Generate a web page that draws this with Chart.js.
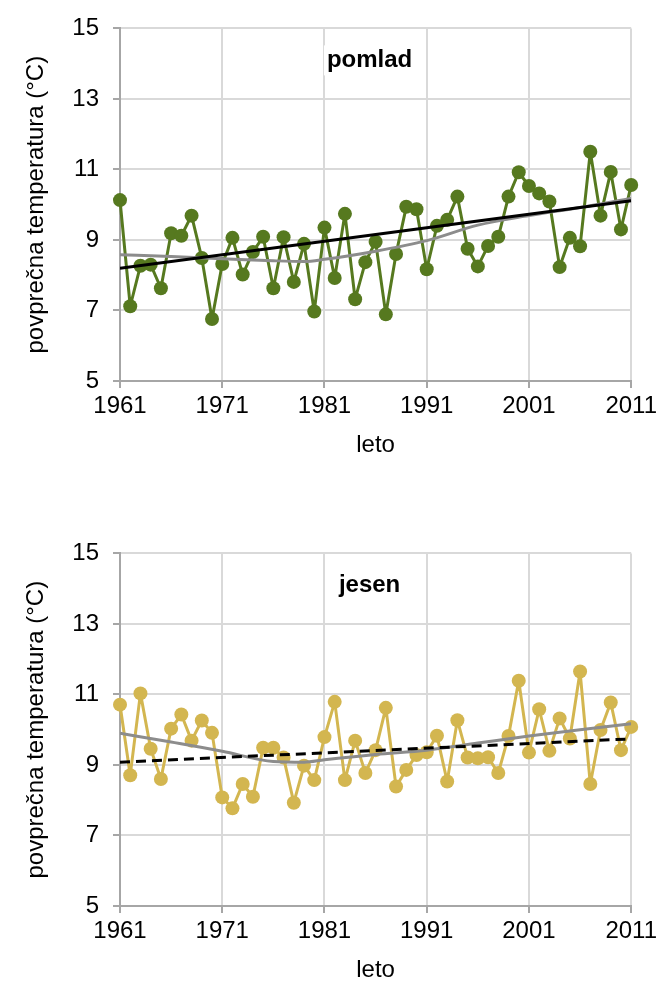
<!DOCTYPE html>
<html>
<head>
<meta charset="utf-8">
<script src="https://cdn.jsdelivr.net/npm/chart.js@4.4.0/dist/chart.umd.min.js"></script>
<style>
  body { margin: 0; background: #fff; }
  .box { position: absolute; left: 0; width: 661px; height: 460px; }
</style>
</head>
<body>
<div class="box" style="top:0"><canvas id="pomladChart" width="661" height="460"></canvas></div>
<div class="box" style="top:525px"><canvas id="jesenChart" width="661" height="460"></canvas></div>
<script>
// years 1961..2011
var years = Array.from({ length: 51 }, function (_, i) { return 1961 + i; });
var xTicks = [1961, 1971, 1981, 1991, 2001, 2011];

// spring (pomlad) mean temperature
var pomlad = [10.13, 7.12, 8.27, 8.30, 7.63, 9.19, 9.12, 9.69, 8.49, 6.76,
              8.32, 9.06, 8.02, 8.66, 9.09, 7.63, 9.08, 7.81, 8.89, 6.97,
              9.35, 7.92, 9.74, 7.32, 8.37, 8.95, 6.89, 8.60, 9.94, 9.87,
              8.17, 9.40, 9.57, 10.23, 8.75, 8.25, 8.83, 9.09, 10.23, 10.92,
              10.53, 10.32, 10.09, 8.23, 9.06, 8.82, 11.50, 9.69, 10.93, 9.30,
              10.56];

// autumn (jesen) mean temperature
var jesen = [10.71, 8.71, 11.03, 9.46, 8.60, 10.03, 10.43, 9.69, 10.26, 9.91,
             8.08, 7.77, 8.46, 8.10, 9.49, 9.49, 9.21, 7.93, 8.98, 8.57,
             9.79, 10.79, 8.57, 9.69, 8.77, 9.42, 10.62, 8.39, 8.86, 9.28,
             9.36, 9.83, 8.53, 10.27, 9.21, 9.19, 9.22, 8.77, 9.82, 11.39,
             9.35, 10.58, 9.40, 10.32, 9.75, 11.65, 8.46, 9.99, 10.77, 9.42,
             10.08];

// linear trends
var trendYears = [1961, 2011];
var pomladTrend = [8.20, 10.11];
var jesenTrend = [9.08, 9.74];

// smoothed curves
var smoothYears = [1961, 1966, 1971, 1976, 1979, 1981, 1986, 1991, 1996, 2001, 2006, 2011];
var pomladSmooth = [8.58, 8.53, 8.47, 8.41, 8.39, 8.45, 8.68, 8.98, 9.42, 9.69, 9.92, 10.18];
var jesenSmooth = [9.90, 9.65, 9.39, 9.10, 9.08, 9.15, 9.30, 9.42, 9.62, 9.82, 10.00, 10.17];

var font = { family: "'Liberation Sans', Arial, sans-serif", size: 24 };

function pts(xs, ys) {
    return xs.map(function (x, i) { return { x: x, y: ys[i] }; });
}

// title box inside the plot area
var insideTitle = {
    id: 'insideTitle',
    afterDraw: function (chart) {
        var ctx = chart.ctx, a = chart.chartArea;
        var text = chart.options.plugins.insideTitle.text;
        ctx.save();
        ctx.font = 'bold 24px ' + font.family;
        var w = ctx.measureText(text).width;
        var cx = (a.left + a.right) / 2 - 6, cy = a.top + 32;
        ctx.fillStyle = '#fff';
        ctx.fillRect(cx - w / 2 - 3, cy - 15, w + 6, 30);
        ctx.fillStyle = '#000';
        ctx.textAlign = 'center';
        ctx.textBaseline = 'middle';
        ctx.fillText(text, cx, cy);
        ctx.restore();
    }
};

function makeChart(id, title, values, color, trend, dash, smooth) {
    var ctx = document.getElementById(id).getContext('2d');
    return new Chart(ctx, {
        type: 'line',
        data: {
            datasets: [{
                data: pts(trendYears, trend),
                borderColor: '#000',
                borderWidth: 3,
                borderDash: dash,
                pointRadius: 0
            }, {
                data: pts(smoothYears, smooth),
                borderColor: '#8c8c8c',
                borderWidth: 3,
                cubicInterpolationMode: 'monotone',
                pointRadius: 0
            }, {
                data: pts(years, values),
                borderColor: color,
                backgroundColor: color,
                borderWidth: 3,
                borderJoinStyle: 'round',
                pointRadius: 7,
                pointBorderWidth: 0,
                pointBackgroundColor: color,
                clip: false
            }]
        },
        plugins: [insideTitle],
        options: {
            responsive: false,
            animation: false,
            devicePixelRatio: 1,
            layout: { padding: { left: 0, right: 28, top: 28, bottom: 0 } },
            plugins: {
                legend: { display: false },
                tooltip: { enabled: false },
                insideTitle: { text: title }
            },
            scales: {
                x: {
                    type: 'linear',
                    min: 1961,
                    max: 2011,
                    afterBuildTicks: function (s) { s.ticks = xTicks.map(function (v) { return { value: v }; }); },
                    afterFit: function (s) { s.height = 79; },
                    grid: { color: '#d9d9d9', lineWidth: 2, tickLength: 7, tickColor: '#a6a6a6' },
                    border: { color: '#a6a6a6', width: 2 },
                    ticks: { font: font, color: '#000', padding: 4, maxRotation: 0,
                             callback: function (v) { return String(v); } },
                    title: { display: true, text: 'leto', font: font, color: '#000', padding: 0 }
                },
                y: {
                    min: 5,
                    max: 15,
                    afterFit: function (s) { s.width = 120; },
                    grid: { color: '#d9d9d9', lineWidth: 2, tickLength: 7, tickColor: '#a6a6a6' },
                    border: { color: '#a6a6a6', width: 2 },
                    ticks: { stepSize: 2, font: font, color: '#000', padding: 14 },
                    title: { display: true, text: 'povprečna temperatura (°C)', font: font, color: '#000',
                             padding: { top: 22, bottom: 0 } }
                }
            }
        }
    });
}

makeChart('pomladChart', 'pomlad', pomlad, '#56791f', pomladTrend, [], pomladSmooth);
makeChart('jesenChart', 'jesen', jesen, '#d3b650', jesenTrend, [10, 6], jesenSmooth);
</script>
</body>
</html>
